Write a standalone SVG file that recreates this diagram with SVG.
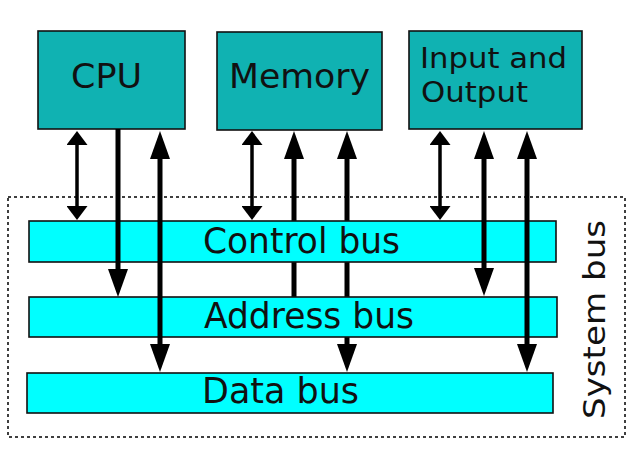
<svg xmlns="http://www.w3.org/2000/svg" width="640" height="469" viewBox="0 0 640 469">
<style>
.unit{fill:#10b2b2;stroke:#111;stroke-width:1.6}
.bus{fill:#00ffff;stroke:#111;stroke-width:1.6}
.lbl{font-family:"DejaVu Sans","Liberation Sans",sans-serif;fill:#111}
.thin{stroke:#000;stroke-width:3.5;fill:none}
.thick{stroke:#000;stroke-width:5;fill:none}
</style>
<defs>
<marker id="hThin" markerUnits="userSpaceOnUse" markerWidth="14" markerHeight="21" refX="8" refY="10.5" orient="auto-start-reverse"><path d="M0,0 L14,10.5 L0,21 z" fill="#000"/></marker>
<marker id="hThick" markerUnits="userSpaceOnUse" markerWidth="28" markerHeight="20" refX="18" refY="10" orient="auto-start-reverse"><path d="M0,0 L28,10 L0,20 z" fill="#000"/></marker>
</defs>
<rect width="640" height="469" fill="#fff"/>
<g id="system-bus">
<rect x="8" y="197" width="617" height="240" fill="none" stroke="#000" stroke-width="1.5" stroke-dasharray="3,3"/>
<text class="lbl" transform="translate(605,419) rotate(-90)" font-size="30" textLength="199" lengthAdjust="spacingAndGlyphs">System bus</text>
</g>
<g id="cpu">
<rect class="unit" x="38" y="31" width="147" height="98"/>
<text class="lbl" x="71" y="88" font-size="34" textLength="71" lengthAdjust="spacingAndGlyphs">CPU</text>
</g>
<g id="memory">
<rect class="unit" x="217" y="32" width="165" height="98"/>
<text class="lbl" x="229" y="88" font-size="34" textLength="141" lengthAdjust="spacingAndGlyphs">Memory</text>
</g>
<g id="io">
<rect class="unit" x="409" y="31" width="173" height="98"/>
<text class="lbl" x="420" y="68" font-size="27.5" textLength="147" lengthAdjust="spacingAndGlyphs">Input and</text>
<text class="lbl" x="421" y="102" font-size="27.5" textLength="107" lengthAdjust="spacingAndGlyphs">Output</text>
</g>
<g id="connectors-behind">
<line class="thick" x1="294" y1="297" x2="294" y2="141" marker-end="url(#hThick)"/>
<line class="thick" x1="347" y1="141" x2="347" y2="362" marker-start="url(#hThick)" marker-end="url(#hThick)"/>
</g>
<g id="control-bus">
<rect class="bus" x="29" y="221" width="527" height="41"/>
<text class="lbl" x="203" y="253" font-size="35" textLength="197" lengthAdjust="spacingAndGlyphs">Control bus</text>
</g>
<g id="address-bus">
<rect class="bus" x="29" y="297" width="528" height="40"/>
<text class="lbl" x="204" y="328" font-size="35" textLength="210" lengthAdjust="spacingAndGlyphs">Address bus</text>
</g>
<g id="data-bus">
<rect class="bus" x="27" y="373" width="526" height="40"/>
<text class="lbl" x="202" y="403" font-size="35" textLength="157" lengthAdjust="spacingAndGlyphs">Data bus</text>
</g>
<g id="connectors">
<line class="thin" x1="77" y1="137" x2="77" y2="214" marker-start="url(#hThin)" marker-end="url(#hThin)"/>
<line class="thin" x1="252" y1="137" x2="252" y2="214" marker-start="url(#hThin)" marker-end="url(#hThin)"/>
<line class="thin" x1="440" y1="137" x2="440" y2="214" marker-start="url(#hThin)" marker-end="url(#hThin)"/>
<line class="thick" x1="118" y1="129" x2="118" y2="287" marker-end="url(#hThick)"/>
<line class="thick" x1="160" y1="141" x2="160" y2="362" marker-start="url(#hThick)" marker-end="url(#hThick)"/>
<line class="thick" x1="484" y1="141" x2="484" y2="286" marker-start="url(#hThick)" marker-end="url(#hThick)"/>
<line class="thick" x1="527" y1="141" x2="527" y2="362" marker-start="url(#hThick)" marker-end="url(#hThick)"/>
</g>
</svg>
